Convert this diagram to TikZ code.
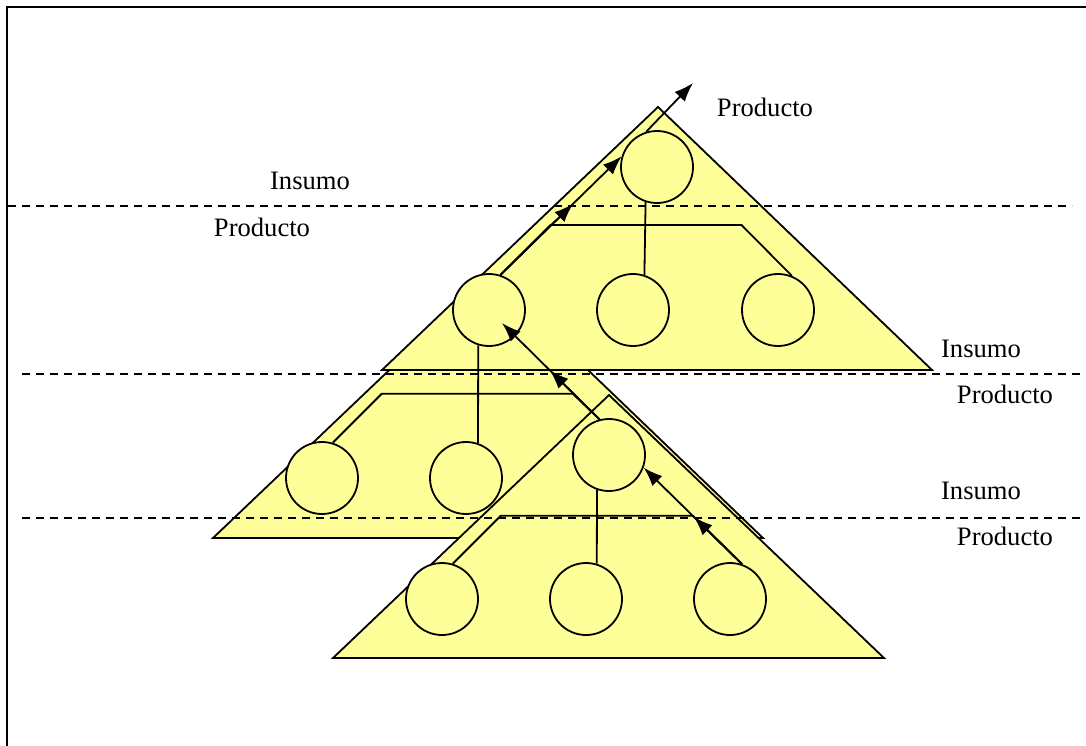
\documentclass[tikz,border=0pt]{standalone}
\usepackage{fontspec}
\setmainfont{Liberation Serif}
\usetikzlibrary{arrows.meta,calc}
\definecolor{paleyellow}{RGB}{255,255,153}
\begin{document}
\begin{tikzpicture}[
  x=0.5pt, y=-0.5pt,
  line width=0.9pt,
  unit/.style={circle,draw,fill=paleyellow,inner sep=0pt,minimum size=36pt},
  level/.style={draw,fill=paleyellow},
  cut/.style={dash pattern=on 4pt off 3pt},
  flow/.style={draw,-{Latex[length=9.5pt,width=7pt]}},
  every node/.style={font=\fontsize{13.3}{16}\selectfont}
]
\useasboundingbox (0,0) rectangle (1086,745);
\clip (0,0) rectangle (1086,745);
\draw (7,760) -- (7,7) -- (1100,7);

\filldraw[level] (489,275) -- (763,538) -- (213,538) -- cycle;
\filldraw[level] (658,107) -- (932,370) -- (382,370) -- cycle;
\filldraw[level] (609,395) -- (884,658) -- (333,658) -- cycle;

\draw[cut] (8,206) -- (1072,206);
\draw[cut] (22,374) -- (1086,374);
\draw[cut] (22,518) -- (1086,518);

\node[unit] (t1) at (657,167) {};
\node[unit] (a1) at (489,310) {};
\node[unit] (a2) at (633,310) {};
\node[unit] (a3) at (778,310) {};
\node[unit] (b1) at (322,478) {};
\node[unit] (b2) at (466,478) {};
\node[unit] (c0) at (609,455) {};
\node[unit] (c1) at (442,599) {};
\node[unit] (c2) at (586,599) {};
\node[unit] (c3) at (730,599) {};

\draw (t1.252) -- (a2.72);
\draw (a1.72) -- ++(50,-50) -- ++(191,0) -- (a3.68);
\draw (a1.253) -- (b2.71);
\draw (b1.73) -- ++(49,-49) -- ++(191,0) -- (c0.105);
\draw (c0.251) -- (c2.73);
\draw (c1.73) -- ++(48,-48) -- ++(192,0) -- (c3.71);

\coordinate (out) at (693,83);
\coordinate (into) at ($(a1.center)!0.5!(a1.315)$);
\draw[flow] (t1.107) -- (out);
\draw[flow] (a1.72) -- ($(a1.72)!0.6!(t1.163)$);
\draw[flow] (a1.72) -- (t1.163);
\draw[flow] (c0.105) -- ($(c0.105)!0.51!(into)$);
\draw[flow] (c0.105) -- (into);
\draw[flow] (c3.71) -- ($(c3.71)!0.49!(c0.340)$);
\draw[flow] (c3.71) -- (c0.340);

\node[anchor=base] (prod0) at (765,116) {Producto};
\node[anchor=base] (ins1) at (310,189) {Insumo};
\node[anchor=base] (prod1) at (262,236) {Producto};
\node[anchor=base] (ins2) at (981,357) {Insumo};
\node[anchor=base] (prod2) at (1005,403) {Producto};
\node[anchor=base] (ins3) at (981,499) {Insumo};
\node[anchor=base] (prod3) at (1005,545) {Producto};
\end{tikzpicture}
\end{document}
